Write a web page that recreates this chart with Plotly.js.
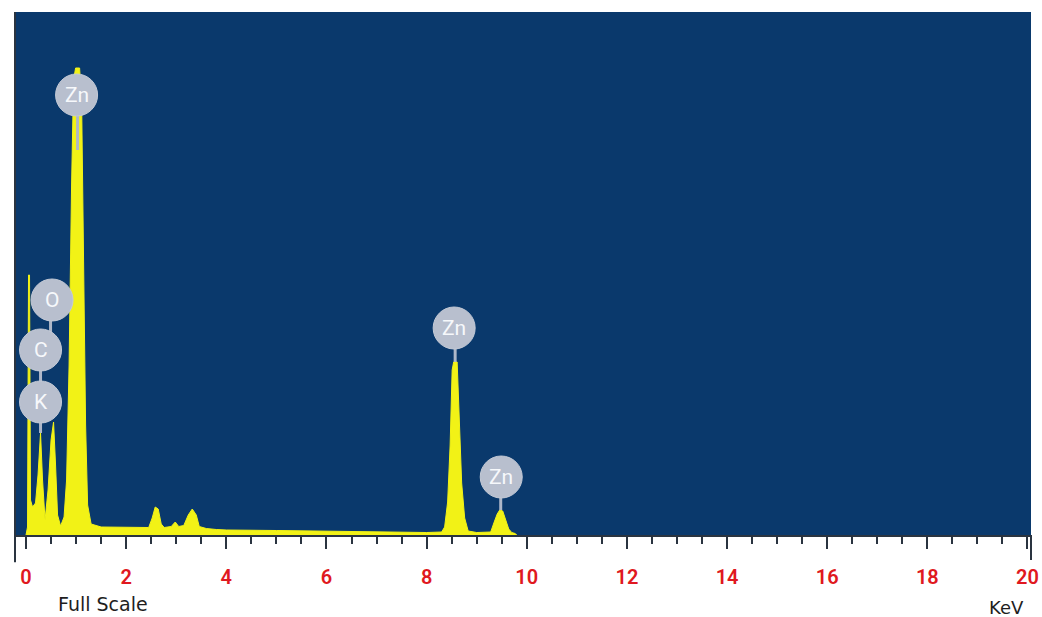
<!DOCTYPE html>
<html>
<head>
<meta charset="utf-8">
<script src="https://cdn.plot.ly/plotly-3.0.1.min.js"></script>
<style>
  html, body { margin: 0; padding: 0; background: #ffffff; }
  #chart { width: 1042px; height: 617px; }
</style>
</head>
<body>
<div id="chart"></div>
<script>
// EDS spectrum: energy (keV) against counts
const energy = [0.00, 0.03, 0.05, 0.07, 0.09, 0.13, 0.19, 0.24, 0.29, 0.33, 0.38, 0.44, 0.50, 0.55, 0.59, 0.63,
  0.69, 0.76, 0.81, 0.86, 0.91, 0.95, 0.99, 1.07, 1.11, 1.15, 1.19, 1.23, 1.30, 1.50, 2.00, 2.45, 2.52, 2.58,
  2.64, 2.70, 2.76, 2.90, 2.98, 3.05, 3.15, 3.24, 3.32, 3.40, 3.46, 3.60, 3.80, 4.00, 5.00, 6.00, 7.00, 7.50,
  8.00, 8.30, 8.36, 8.42, 8.47, 8.51, 8.54, 8.61, 8.65, 8.70, 8.76, 8.83, 9.00, 9.28, 9.35, 9.41, 9.46, 9.52,
  9.58, 9.64, 9.70, 9.77, 9.80];
const counts = [0, 80, 2600, 2600, 350, 280, 320, 600, 1020, 550, 150, 450, 950, 1130, 700, 200,
  90, 180, 550, 1700, 3500, 4550, 4670, 4670, 4350, 2900, 1100, 300, 110, 80, 75, 75, 170, 280,
  260, 110, 75, 85, 130, 85, 95, 200, 260, 200, 85, 65, 55, 50, 45, 40, 35, 25,
  25, 30, 80, 330, 900, 1650, 1730, 1730, 1250, 520, 170, 40, 25, 30, 130, 210, 250, 240,
  150, 60, 25, 15, 0];

// Element markers: bubble centre and the point its stem reaches
const markerText   = ['Zn', 'O', 'C', 'K', 'Zn', 'Zn'];
const markerX      = [1.01, 0.52, 0.29, 0.29, 8.55, 9.49];
const markerY      = [4400, 2350, 1850, 1330, 2070, 580];
const stemX        = [1.03, 0.49, 0.29, 0.29, 8.57, 9.48];
const stemEnd      = [3850, 1850, 1330, 1020, 1730, 250];

// Axis labels
const tickValues = [0, 2, 4, 6, 8, 10, 12, 14, 16, 18, 20];
const tickLabels = ['0', '2', '4', '6', '8', '10', '12', '14', '16', '18', '20'];

const bubbleColor = '#b8bfce';
const R = 21;

const shapes = [];
for (let i = 0; i < markerText.length; i++) {
  shapes.push({
    type: 'line', xref: 'x', yref: 'y',
    x0: stemX[i], x1: stemX[i], y0: markerY[i], y1: stemEnd[i],
    line: { color: '#aeb7c8', width: 3 }
  });
}
for (let i = 0; i < markerText.length; i++) {
  shapes.push({
    type: 'circle', xref: 'x', yref: 'y',
    xsizemode: 'pixel', ysizemode: 'pixel',
    xanchor: markerX[i], yanchor: markerY[i],
    x0: -R, x1: R, y0: -R, y1: R,
    fillcolor: bubbleColor, line: { color: '#c4cad6', width: 1 }
  });
}
// frame end lines below the axis
shapes.push({ type: 'line', xref: 'paper', yref: 'paper', x0: 0, x1: 0, y0: 1, y1: -0.052,
  line: { color: '#2a3440', width: 2 } });
shapes.push({ type: 'line', xref: 'paper', yref: 'paper', x0: 1, x1: 1, y0: 0, y1: -0.048,
  line: { color: '#2a3440', width: 2 } });

const annotations = markerText.map((t, i) => ({
  x: markerX[i], y: markerY[i], xref: 'x', yref: 'y',
  text: t, showarrow: false,
  font: { family: 'Roboto, sans-serif', size: 21, color: '#f6f8fb' }
}));
annotations.push({
  xref: 'paper', yref: 'paper', x: 0.087, y: -0.132, xanchor: 'center', yanchor: 'middle',
  text: 'Full Scale', showarrow: false,
  font: { family: 'DejaVu Sans, sans-serif', size: 19, color: '#1e1e1e' }
});
annotations.push({
  xref: 'paper', yref: 'paper', x: 0.976, y: -0.138, xanchor: 'center', yanchor: 'middle',
  text: 'KeV', showarrow: false,
  font: { family: 'DejaVu Sans, sans-serif', size: 18, color: '#1e1e1e' }
});

const trace = {
  x: energy, y: counts,
  type: 'scatter', mode: 'lines',
  fill: 'tozeroy', fillcolor: '#f2f216',
  line: { color: '#f2f216', width: 1 },
  hoverinfo: 'x+y'
};

const layout = {
  width: 1042, height: 617,
  margin: { l: 14.5, r: 11, t: 12, b: 82 },
  paper_bgcolor: '#ffffff',
  plot_bgcolor: '#0a396c',
  showlegend: false,
  xaxis: {
    range: [-0.22, 20.07],
    tickmode: 'array', tickvals: tickValues, ticktext: tickLabels,
    ticks: 'outside', ticklen: 12, tickwidth: 2, tickcolor: '#2a3440',
    minor: { dtick: 0.5, tick0: 0, ticks: 'outside', ticklen: 7, tickwidth: 2, tickcolor: '#2a3440', showgrid: false },
    showgrid: false, zeroline: false,
    showline: true, linecolor: '#2a3440', linewidth: 2,
    ticklabelstandoff: 11,
    tickfont: { family: 'Roboto, sans-serif', size: 20, color: '#e01820', weight: 600 }
  },
  yaxis: {
    range: [0, 5230],
    showgrid: false, zeroline: false, showline: false,
    showticklabels: false, ticks: ''
  },
  shapes: shapes,
  annotations: annotations
};

Plotly.newPlot('chart', [trace], layout, { displayModeBar: false, staticPlot: true });
</script>
</body>
</html>
